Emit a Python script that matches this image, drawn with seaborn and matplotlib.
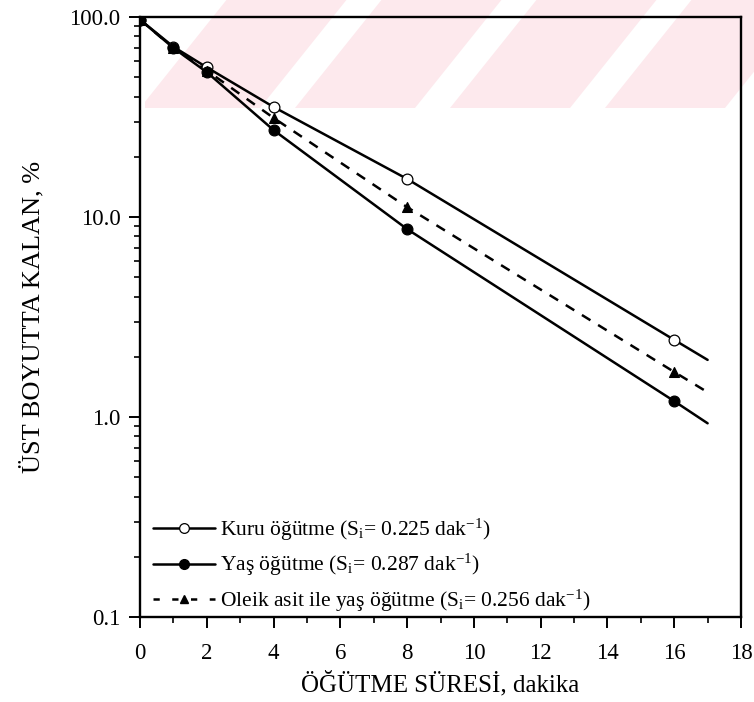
import numpy as np
import pandas as pd
import matplotlib
matplotlib.use("Agg")
import matplotlib.pyplot as plt
from matplotlib.lines import Line2D
from matplotlib.patches import Polygon
from matplotlib.ticker import FixedLocator, FixedFormatter, LogLocator, NullFormatter, MultipleLocator
import seaborn as sns

# ---- data ----
time_min = [0, 1, 2, 4, 8, 16]
kuru = [97, 71, 56, 35.5, 15.5, 2.43]
yas = [97, 70, 53, 27.2, 8.7, 1.2]
oleik = [97, 70, 54, 31.3, 11.2, 1.68]
# end of the drawn lines (extended to 17 min)
line_end_x = 17
kuru_end = 1.93
yas_end = 0.93
oleik_end = 1.33

labels = [
    r"Kuru öğütme (S$_\mathregular{i}$= 0.225 dak$^\mathregular{-1}$)",
    r"Yaş öğütme (S$_\mathregular{i}$= 0.287 dak$^\mathregular{-1}$)",
    r"Oleik asit ile yaş öğütme (S$_\mathregular{i}$= 0.256 dak$^\mathregular{-1}$)",
]
y_ticks = [0.1, 1.0, 10.0, 100.0]
y_ticklabels = ["0.1", "1.0", "10.0", "100.0"]
x_ticks = [0, 2, 4, 6, 8, 10, 12, 14, 16, 18]

sns.set_theme(style="white")
plt.rcParams["font.family"] = ["Liberation Serif", "DejaVu Serif"]
plt.rcParams["mathtext.fontset"] = "custom"
plt.rcParams["mathtext.rm"] = "Liberation Serif"
plt.rcParams["mathtext.it"] = "Liberation Serif:italic"

fig = plt.figure(figsize=(7.54, 7.02), dpi=100)
ax = fig.add_axes([140 / 754, 1 - 617 / 702, (741 - 140) / 754, (617 - 17) / 702])
ax.set_facecolor("none")

# watermark stripes (faint pink) at the top
wm_color = "#fde9ed"
y0, y1 = 1 - 108 / 702, 1.0
slant = 0.8 * 108 / 754
for left_px in range(140, 800, 155):
    xl = left_px / 754
    w = 120 / 754
    poly = Polygon([(xl, y0), (xl + w, y0), (xl + w + slant, y1), (xl + slant, y1)],
                   closed=True, transform=fig.transFigure, facecolor=wm_color,
                   edgecolor="none", zorder=-10)
    fig.patches.append(poly)
fig.patches.append(plt.Rectangle((0, y0), 145 / 754, 1 - y0, transform=fig.transFigure,
                                 facecolor="white", edgecolor="none", zorder=-9))

lw = 1.8
series = [
    ("kuru", kuru, kuru_end, "-", "o", "white"),
    ("yas", yas, yas_end, "-", "o", "black"),
    ("oleik", oleik, oleik_end, (0, (4.0, 3.6)), "^", "black"),
]
for name, vals, end, ls, mk, fc in series:
    df_line = pd.DataFrame({"t": time_min + [line_end_x], "v": vals + [end]})
    sns.lineplot(data=df_line, x="t", y="v", ax=ax, color="black", lw=lw,
                 estimator=None, sort=True, zorder=3, legend=False)
    ax.lines[-1].set_linestyle(ls)
    df_pts = pd.DataFrame({"t": time_min, "v": vals})
    sns.scatterplot(data=df_pts, x="t", y="v", ax=ax, marker=mk, s=60 if mk == "o" else 50,
                    facecolor=fc, edgecolor="black", linewidth=0.9, zorder=4, legend=False)

ax.set_yscale("log")
ax.set_xlim(0, 18)
ax.set_ylim(0.1, 100)
ax.yaxis.set_major_locator(FixedLocator(y_ticks))
ax.yaxis.set_major_formatter(FixedFormatter(y_ticklabels))
ax.yaxis.set_minor_locator(LogLocator(base=10, subs=np.arange(2, 10)))
ax.yaxis.set_minor_formatter(NullFormatter())
ax.xaxis.set_major_locator(FixedLocator(x_ticks))
ax.xaxis.set_minor_locator(MultipleLocator(1))

for sp in ax.spines.values():
    sp.set_visible(True)
    sp.set_color("black")
    sp.set_linewidth(1.7)

ax.tick_params(axis="both", which="major", direction="out", length=8, width=1.4,
               color="black", labelcolor="black",
               left=True, bottom=True, right=False, top=False)
ax.tick_params(axis="both", which="minor", direction="out", length=4.5, width=1.2,
               color="black", left=True, bottom=True, right=False, top=False)
ax.tick_params(axis="x", which="major", labelsize=16.5, pad=11)
ax.tick_params(axis="y", which="major", labelsize=16.5, pad=6)

ax.set_xlabel("ÖĞÜTME SÜRESİ, dakika", fontsize=18, color="black", labelpad=5)
ax.set_ylabel("ÜST BOYUTTA KALAN, %", fontsize=19, color="black", labelpad=18)
ax.grid(False)

handles = [
    Line2D([], [], color="black", lw=lw, marker="o", markersize=7, markerfacecolor="white",
           markeredgecolor="black", markeredgewidth=0.9),
    Line2D([], [], color="black", lw=lw, marker="o", markersize=7, markerfacecolor="black",
           markeredgecolor="black"),
    Line2D([], [], color="black", lw=lw, linestyle=(0, (2.5, 5.0)), marker="^", markersize=6,
           markerfacecolor="black", markeredgecolor="black"),
]
leg = ax.legend(handles, labels, loc="lower left", bbox_to_anchor=(0.0, -0.016),
                frameon=False, fontsize=15.5, handlelength=2.9, handletextpad=0.2,
                labelspacing=0.42, borderaxespad=0.2)
for t in leg.get_texts():
    t.set_color("black")

fig.savefig("out.png", dpi=100, facecolor="white")
